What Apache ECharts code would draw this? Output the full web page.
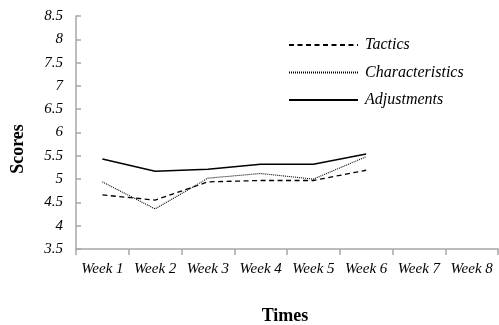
<!DOCTYPE html>
<html>
<head>
<meta charset="utf-8">
<script src="https://cdn.jsdelivr.net/npm/echarts@6/dist/echarts.min.js"></script>
<style>html,body{margin:0;padding:0;background:#fff}#c{width:499px;height:325px}</style>
</head>
<body>
<div id="c"></div>
<script>
var categories = ['Week 1','Week 2','Week 3','Week 4','Week 5','Week 6','Week 7','Week 8'];
var tactics = [4.66, 4.55, 4.94, 4.97, 4.97, 5.19];
var characteristics = [4.94, 4.36, 5.02, 5.12, 5.00, 5.48];
var adjustments = [5.43, 5.17, 5.21, 5.32, 5.32, 5.54];
var seriesNames = ['Tactics', 'Characteristics', 'Adjustments'];

var chart = echarts.init(document.getElementById('c'));
var serif = '"Liberation Serif", "DejaVu Serif", serif';
var axisCol = '#a6a6a6';
function mk(name, data, type, w) {
  return {
    name: name, type: 'line', data: data, symbol: 'none', silent: true,
    itemStyle: { color: '#000' },
    lineStyle: { color: '#000', width: w, type: type }
  };
}
chart.setOption({
  animation: false,
  backgroundColor: '#fff',
  grid: { left: 76, right: 1, top: 16, bottom: 76 },
  legend: {
    orient: 'vertical', left: 283, top: 32, itemWidth: 69, itemHeight: 10, itemGap: 11.5,
    data: seriesNames,
    itemStyle: { opacity: 0 },
    textStyle: { fontFamily: serif, fontStyle: 'italic', fontSize: 16, color: '#000', padding: [0,0,0,2] }
  },
  xAxis: {
    type: 'category', data: categories, boundaryGap: true,
    axisLine: { lineStyle: { color: axisCol, width: 1.5 } },
    axisTick: { show: true, inside: false, length: 6, lineStyle: { color: axisCol, width: 1.5 } },
    axisLabel: { interval: 0, margin: 13, fontFamily: serif, fontStyle: 'italic', fontSize: 15, color: '#000' },
    splitLine: { show: false }
  },
  yAxis: {
    type: 'value', min: 3.5, max: 8.5, interval: 0.5,
    axisLine: { show: true, lineStyle: { color: axisCol, width: 1.5 } },
    axisTick: { show: true, inside: true, length: 5, lineStyle: { color: axisCol, width: 1.5 } },
    axisLabel: { margin: 13, fontFamily: serif, fontStyle: 'italic', fontSize: 15, color: '#000' },
    splitLine: { show: false }
  },
  graphic: [
    { type: 'text', x: 18, y: 149, rotation: Math.PI / 2,
      style: { text: 'Scores', fill: '#000', font: 'bold 18px ' + serif, textAlign: 'center', textVerticalAlign: 'middle' } },
    { type: 'text', x: 285, y: 316,
      style: { text: 'Times', fill: '#000', font: 'bold 18px ' + serif, textAlign: 'center', textVerticalAlign: 'middle' } }
  ],
  series: [
    mk('Tactics', tactics, [5, 3.5], 1.3),
    mk('Characteristics', characteristics, [1, 1], 1.1),
    mk('Adjustments', adjustments, 'solid', 1.5)
  ]
});
</script>
</body>
</html>
